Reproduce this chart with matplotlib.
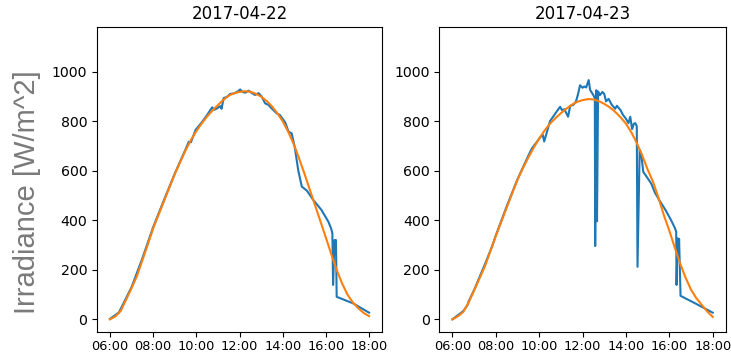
import pandas as pd
import matplotlib
matplotlib.use("Agg")
import matplotlib.pyplot as plt
import matplotlib.dates as mdates

plt.rcParams["font.size"] = 10.2

DAYS = ["2017-04-22", "2017-04-23"]

# measured irradiance, 2017-04-22
meas_times_22 = ["06:00", "06:25", "07:00", "07:30", "08:00", "08:30", "09:00", "09:30",
                 "09:39", "09:45", "09:58", "10:15", "10:30", "10:44", "10:50", "10:58",
                 "11:07", "11:10", "11:16", "11:25", "11:34", "11:45", "11:55", "12:02",
                 "12:08", "12:16", "12:25", "12:35", "12:43", "12:53", "13:02", "13:11",
                 "13:20", "13:29", "13:43", "13:52", "14:02", "14:07", "14:16", "14:25",
                 "14:34", "14:43", "14:53", "15:07", "15:25", "15:48", "16:07", "16:15",
                 "16:18", "16:20", "16:24", "16:26", "16:28", "16:30", "17:15", "18:00"]
meas_vals_22 = [2, 28, 130, 246, 372, 481, 588, 686,
                717, 715, 765, 795, 825, 856, 846, 852,
                861, 850, 893, 898, 910, 912, 920, 928,
                918, 915, 923, 913, 906, 913, 899, 872,
                866, 852, 832, 825, 805, 795, 758, 751,
                691, 603, 536, 520, 482, 441, 394, 365,
                347, 139, 320, 280, 320, 91, 65, 27]

# measured irradiance, 2017-04-23
meas_times_23 = ["06:00", "06:30", "06:42", "06:45", "07:00", "07:30", "07:50", "08:00",
                 "08:30", "09:00", "09:30", "09:40", "09:53", "10:03", "10:10", "10:14",
                 "10:30", "10:50", "10:58", "11:03", "11:10", "11:20", "11:26", "11:35",
                 "11:42", "11:48", "11:53", "12:00", "12:05", "12:10", "12:17", "12:21",
                 "12:30", "12:34", "12:35", "12:38", "12:40", "12:43", "12:48", "12:55",
                 "13:00", "13:05", "13:12", "13:20", "13:30", "13:35", "13:45", "13:52",
                 "14:00", "14:07", "14:12", "14:17", "14:22", "14:26", "14:30", "14:32",
                 "14:38", "14:42", "14:48", "15:00", "15:10", "15:20", "15:35", "15:50",
                 "16:05", "16:15", "16:19", "16:20", "16:23", "16:25", "16:27", "16:31",
                 "17:15", "18:00"]
meas_vals_23 = [0, 33, 58, 72, 118, 222, 295, 338,
                455, 565, 660, 690, 715, 735, 745, 718,
                800, 842, 858, 845, 848, 818, 862, 866,
                880, 912, 945, 935, 940, 936, 966, 926,
                905, 893, 296, 925, 396, 920, 905, 918,
                910, 880, 890, 868, 850, 862, 845, 825,
                810, 792, 818, 768, 790, 792, 780, 212,
                684, 670, 595, 570, 548, 512, 475, 440,
                400, 370, 354, 139, 327, 262, 325, 95,
                62, 27]

# modelled irradiance, every 15 minutes from 06:00 to 18:00
model_vals_22 = [0, 12, 34, 80, 126, 175, 238, 302,
                 367, 422, 477, 532, 586, 635, 682, 724,
                 760, 791, 819, 843, 865, 886, 903, 913,
                 918, 921, 919, 911, 899, 882, 860, 832,
                 800, 758, 710, 652, 590, 525, 460, 395,
                 330, 263, 200, 145, 100, 68, 45, 26,
                 13]
model_vals_23 = [0, 12, 30, 68, 116, 165, 214, 275,
                 336, 393, 450, 507, 563, 610, 653, 693,
                 730, 762, 790, 812, 832, 850, 866, 878,
                 885, 889, 888, 881, 870, 856, 838, 816,
                 790, 755, 712, 662, 605, 555, 490, 420,
                 358, 290, 225, 168, 120, 85, 58, 32,
                 10]


def to_dt(day, times):
    return pd.to_datetime([f"{day} {t}" for t in times])


fig = plt.figure(figsize=(7.31, 3.53), dpi=100)
ax1 = fig.add_axes([0.1327, 0.0595, 0.3899, 0.8632])
ax2 = fig.add_axes([0.6010, 0.0595, 0.3918, 0.8632])

series = [
    (ax1, DAYS[0], meas_times_22, meas_vals_22, model_vals_22),
    (ax2, DAYS[1], meas_times_23, meas_vals_23, model_vals_23),
]
for ax, day, mt, mv, model in series:
    model_t = pd.date_range(f"{day} 06:00", f"{day} 18:00", freq="15min")
    ax.plot(to_dt(day, mt), mv, color="#1f77b4", lw=1.5)
    ax.plot(model_t, model, color="#ff7f0e", lw=1.5)
    ax.set_title(day, fontsize=12)
    ax.set_ylim(-51, 1179)
    ax.set_yticks([0, 200, 400, 600, 800, 1000])
    ax.xaxis.set_major_locator(mdates.HourLocator(byhour=range(6, 19, 2)))
    ax.xaxis.set_major_formatter(mdates.DateFormatter("%H:%M"))
    ax.tick_params(axis="x", labelsize=9.3, pad=2.5)

fig.text(0.0376, 0.457, "Irradiance [W/m^2]", rotation=90, ha="center", va="center",
         fontsize=21, color="#7a7a7a", family="Liberation Sans")

plt.savefig("out.png", dpi=100)
